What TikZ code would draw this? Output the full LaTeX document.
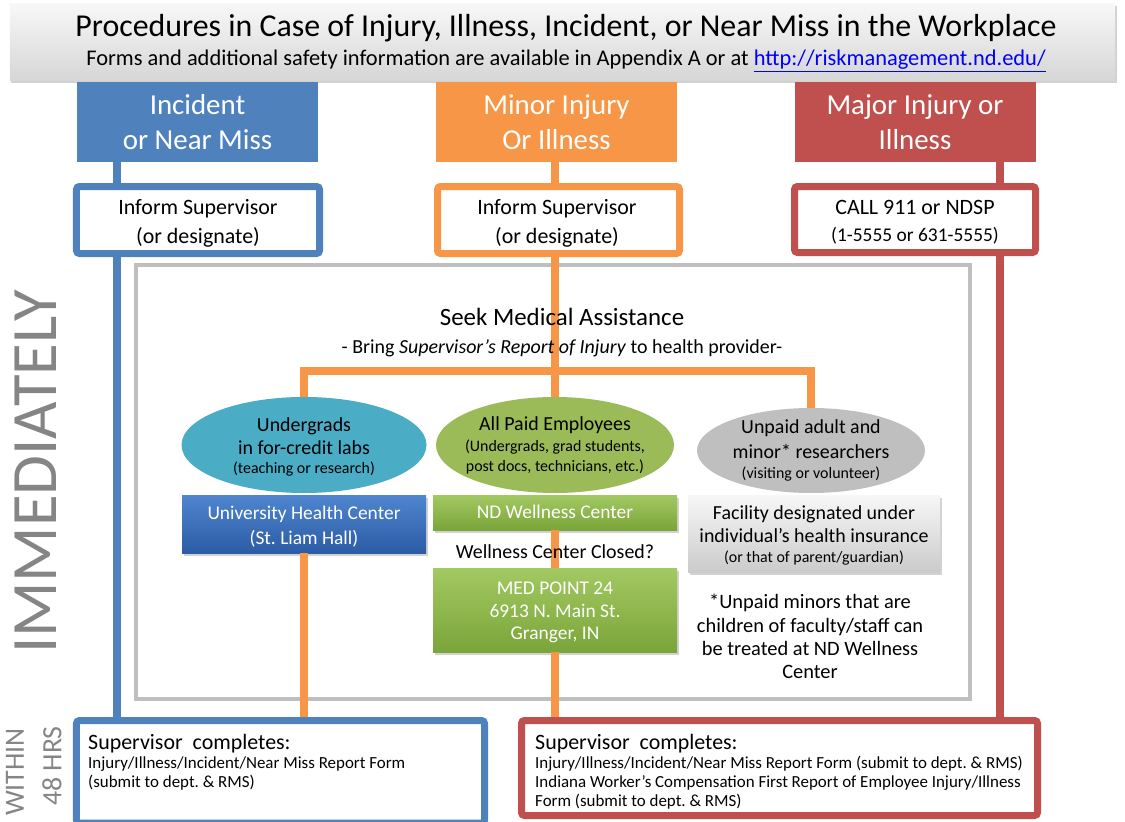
\documentclass[tikz,border=0pt]{standalone}
\usepackage{fontspec}
\setmainfont{Carlito}
\usetikzlibrary{shapes.geometric,shadows}
\definecolor{cblue}{HTML}{4F81BD}
\definecolor{corange}{HTML}{F79646}
\definecolor{cred}{HTML}{C0504D}
\definecolor{cteal}{HTML}{4BACC6}
\definecolor{cgreen}{HTML}{9BBB59}
\definecolor{cgrayell}{HTML}{BFBFBF}
\definecolor{cframe}{HTML}{BFBFBF}
\definecolor{clabel}{HTML}{858585}
\definecolor{uhctop}{HTML}{4F86CF}
\definecolor{uhcbot}{HTML}{2C5CA5}
\definecolor{grtop}{HTML}{A3C962}
\definecolor{grbot}{HTML}{7AA53A}
\definecolor{fctop}{HTML}{F7F7F7}
\definecolor{fcbot}{HTML}{CBCBCB}
\definecolor{linkblue}{HTML}{0000FF}
\newcommand{\fsz}[1]{\fontsize{#1}{#1}\selectfont}
\frenchspacing
\begin{document}
\begin{tikzpicture}[x=1bp,y=-1bp,
  hdr/.style={fill=#1, minimum width=241bp, minimum height=80bp, inner sep=0pt},
  infobox/.style={draw=#1, line width=7bp, fill=white, rounded corners=3bp, inner sep=0pt},
  conn/.style={draw=#1, line width=8bp},
  ell/.style={ellipse, fill=#1, inner sep=0pt},
  shbox/.style={drop shadow={shadow xshift=1.5bp, shadow yshift=-2.5bp, opacity=0.35}, inner sep=0pt},
  tl/.style={inner sep=0pt, anchor=base},
  tw/.style={inner sep=0pt, anchor=base west},
  vlbl/.style={inner sep=0pt, text=clabel, rotate=90},
  f32/.style={font=\fsz{32}},
  f29/.style={font=\fsz{29}},
  f25/.style={font=\fsz{25}},
  f22/.style={font=\fsz{22}},
  f20/.style={font=\fsz{20}},
  f19/.style={font=\fsz{19.5}},
  f17/.style={font=\fsz{17}},
  f16/.style={font=\fsz{16}},
]
\useasboundingbox (0,0) rectangle (1125,822);
\fill[white] (0,0) rectangle (1125,822);

% header band
\node[shbox, top color=gray!6, bottom color=gray!32, minimum width=1105bp, minimum height=76bp] (band) at (562.5,42) {};
\node[tl, f32] (title) at (566,37) {Procedures in Case of Injury, Illness, Incident, or Near Miss in the Workplace};
\node[tl, font=\fsz{22.5}] (sub) at (566,66) {Forms and additional safety information are available in Appendix A or at \textcolor{linkblue}{\underline{http://riskmanagement.nd.edu/}}};

% frame
\node[draw=cframe, line width=4bp, minimum width=834bp, minimum height=434bp, inner sep=0pt] (frame) at (553,482) {};

% column headers
\node[hdr=cblue] (hInc) at (197.5,122) {};
\node[hdr=corange] (hMin) at (556.5,122) {};
\node[hdr=cred] (hMaj) at (915,122) {};

% inform boxes
\node[infobox=cblue, minimum width=243bp, minimum height=67bp] (iInc) at (198,220) {};
\node[infobox=corange, minimum width=242bp, minimum height=67bp] (iMin) at (558.5,220) {};
\node[infobox=cred, minimum width=241bp, minimum height=66bp] (iMaj) at (915,219.5) {};

% ellipses
\node[ell=cteal, minimum width=245bp, minimum height=96bp] (tEll) at (304,445) {};
\node[ell=cgreen, minimum width=238bp, minimum height=96bp] (gEll) at (555,445) {};
\node[ell=cgrayell, minimum width=228bp, minimum height=85bp] (aEll) at (811,450.5) {};

% facility boxes
\node[shbox, top color=uhctop, bottom color=uhcbot, minimum width=244bp, minimum height=58bp] (uhc) at (304,524) {};
\node[shbox, top color=grtop, bottom color=grbot, minimum width=244bp, minimum height=35bp] (nd) at (555,512.5) {};
\node[shbox, top color=grtop, bottom color=grbot, minimum width=244bp, minimum height=84bp] (mp) at (555,610) {};
\node[shbox, top color=fctop, bottom color=fcbot, minimum width=252bp, minimum height=77bp] (fac) at (814,533.5) {};

% bottom boxes
\node[infobox=cblue, minimum width=408bp, minimum height=102.5bp] (bInc) at (280.5,771.75) {};
\node[infobox=cred, minimum width=516bp, minimum height=95bp] (bMaj) at (779.5,768) {};

% connector columns
\coordinate (xb) at (117,0);
\coordinate (xo) at (555,0);
\coordinate (xr) at (1000,0);
\coordinate (barc) at (555,371);

\draw[conn=cblue] (xb |- hInc.south) -- (xb |- iInc.north);
\draw[conn=cblue] (xb |- iInc.south) -- (xb |- bInc.north);
\draw[conn=corange] (xo |- hMin.south) -- (xo |- iMin.north);
\draw[conn=corange] (xo |- iMin.south) -- (gEll.north);
\draw[conn=corange] (tEll.north) |- (barc) -| (aEll.north);
\draw[conn=corange] (uhc.south) -- (uhc.south |- bInc.north);
\draw[conn=corange] (nd.south) -- (mp.north);
\draw[conn=corange] (mp.south) -- (mp.south |- bMaj.north);
\draw[conn=cred] (xr |- hMaj.south) -- (xr |- iMaj.north);
\draw[conn=cred] (xr |- iMaj.south) -- (xr |- bMaj.north);

% header texts
\node[tl, f29, text=white] (hInc1) at (197.5,114) {Incident};
\node[tl, f29, text=white] (hInc2) at (197.5,149) {or Near Miss};
\node[tl, f29, text=white] (hMin1) at (556.5,114) {Minor Injury};
\node[tl, f29, text=white] (hMin2) at (556.5,149) {Or Illness};
\node[tl, f29, text=white] (hMaj1) at (915,114) {Major Injury or};
\node[tl, f29, text=white] (hMaj2) at (915,149) {Illness};

% inform texts
\node[tl, f22] (iInc1) at (198,214.7) {Inform Supervisor};
\node[tl, f22] (iInc2) at (198,243.7) {(or designate)};
\node[tl, f22] (iMin1) at (557,214.7) {Inform Supervisor};
\node[tl, f22] (iMin2) at (557,243.7) {(or designate)};
\node[tl, f22] (iMaj1) at (915,214.7) {CALL 911 or NDSP};
\node[tl, f19] (iMaj2) at (915,241.4) {(1-5555 or 631-5555)};

% seek
\node[tl, f25] (seek) at (562,325) {Seek Medical Assistance};
\node[tl, f20] (bring) at (562,353.4) {- Bring \textit{Supervisor’s Report of Injury} to health provider-};

% ellipse texts
\node[tl, f20] (t1) at (304,431.4) {Undergrads};
\node[tl, f20] (t2) at (304,454.4) {in for-credit labs};
\node[tl, f16] (t3) at (304,473.2) {(teaching or research)};
\node[tl, f20] (g1) at (555,430.4) {All Paid Employees};
\node[tl, f16] (g2) at (555,451.2) {(Undergrads, grad students,};
\node[tl, f16] (g3) at (555,471.2) {post docs, technicians, etc.)};
\node[tl, f20] (a1) at (811,433.4) {Unpaid adult and};
\node[tl, f20] (a2) at (811,458.4) {minor* researchers};
\node[tl, f16] (a3) at (811,478.2) {(visiting or volunteer)};

% box texts
\node[tl, f19, text=white] (u1) at (304,519.2) {University Health Center};
\node[tl, f19, text=white] (u2) at (304,544.2) {(St. Liam Hall)};
\node[tl, f19, text=white] (n1) at (555,518.7) {ND Wellness Center};
\node[tl, f20] (closed) at (555,558.4) {Wellness Center Closed?};
\node[tl, f19, text=white] (m1) at (555,594.2) {MED POINT 24};
\node[tl, f19, text=white] (m2) at (555,617.2) {6913 N. Main St.};
\node[tl, f19, text=white] (m3) at (555,639.2) {Granger, IN};
\node[tl, f20] (fa1) at (814,519.4) {Facility designated under};
\node[tl, f20] (fa2) at (814,542.4) {individual’s health insurance};
\node[tl, f16] (fa3) at (814,562.2) {(or that of parent/guardian)};

% footnote
\node[tl, font=\fsz{20.5}] (fn1) at (810,608.4) {*Unpaid minors that are};
\node[tl, font=\fsz{20.5}] (fn2) at (810,632.4) {children of faculty/staff can};
\node[tl, font=\fsz{20.5}] (fn3) at (810,655.4) {be treated at ND Wellness};
\node[tl, font=\fsz{20.5}] (fn4) at (810,678.4) {Center};

% bottom texts
\node[tw, f22] (bi1) at (88,749) {Supervisor\ \ completes:};
\node[tw, f17] (bi2) at (88,768.5) {Injury/Illness/Incident/Near Miss Report Form};
\node[tw, f17] (bi3) at (88,787.5) {(submit to dept. \& RMS)};
\node[tw, f22] (bm1) at (535,749) {Supervisor\ \ completes:};
\node[tw, f17] (bm2) at (535,768.5) {Injury/Illness/Incident/Near Miss Report Form (submit to dept. \& RMS)};
\node[tw, f17] (bm3) at (535,787.5) {Indiana Worker’s Compensation First Report of Employee Injury/Illness};
\node[tw, f17] (bm4) at (535,806.5) {Form (submit to dept. \& RMS)};

% side labels
\node[vlbl, font=\fsz{65}] (imm) at (36,472) {IMMEDIATELY};
\node[vlbl, font=\fsz{28}] (within) at (15,772) {WITHIN};
\node[vlbl, font=\fsz{28}] (hrs) at (52,766) {48 HRS};
\end{tikzpicture}
\end{document}
